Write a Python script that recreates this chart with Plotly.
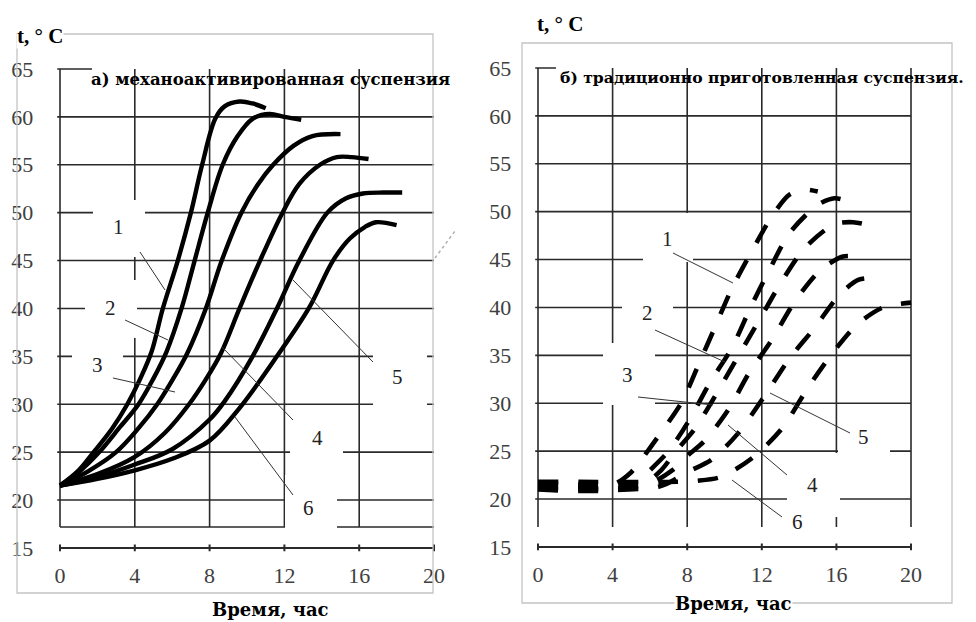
import plotly.graph_objects as go

# ---------------- data ----------------
x_ticks = [0, 4, 8, 12, 16, 20]
y_ticks = [15, 20, 25, 30, 35, 40, 45, 50, 55, 60, 65]
grid_levels = [20, 25, 30, 35, 40, 45, 50, 55, 60]
curve_labels = ["1", "2", "3", "4", "5", "6"]

title_a = "а) механоактивированная суспензия"
title_b = "б) традиционно приготовленная суспензия."
y_title = "t, ° C"
x_title = "Время, час"

# panel а) – mechanically activated suspension (solid curves)
time_a1 = [0, 1, 1.8, 2.8, 3.6, 4.3, 4.9, 5.5, 6.3, 7.0, 7.6, 8.3, 8.8, 9.6, 10.3, 11.0]
temp_a1 = [21.5, 23.1, 25, 27.5, 30, 32.7, 35.5, 40, 45, 50, 55, 59.8, 61.1, 61.6, 61.4, 60.9]
time_a2 = [0, 1, 2.1, 3.2, 4.2, 5.0, 5.7, 6.5, 7.2, 7.9, 8.7, 9.5, 10.3, 11.2, 12.0, 12.9]
temp_a2 = [21.5, 22.9, 25, 27.6, 30, 32.7, 35.5, 40, 45, 50, 55, 58, 59.8, 60.3, 60.0, 59.7]
time_a3 = [0, 1.5, 3.0, 4.2, 5.2, 6.0, 6.8, 7.8, 8.65, 9.7, 10.6, 11.4, 12.5, 13.5, 15.0]
temp_a3 = [21.5, 23, 25, 27.5, 30, 32.5, 35.3, 40, 45, 50, 53, 55, 57, 58, 58.2]
time_a4 = [0, 2, 4, 5.6, 6.9, 7.8, 8.6, 9.6, 10.7, 11.9, 12.8, 13.9, 14.8, 15.6, 16.5]
temp_a4 = [21.5, 22.7, 24.5, 27, 30, 32.6, 35.3, 40, 45, 50, 53, 55, 55.8, 55.8, 55.6]
time_a5 = [0, 2, 4, 6, 8, 8.8, 10.3, 11.6, 12.8, 14.3, 15.3, 16.2, 17.3, 18.3]
temp_a5 = [21.5, 22.4, 23.7, 25.3, 28.4, 30.3, 35, 40, 45, 50, 51.5, 52, 52.1, 52.1]
time_a6 = [0, 2, 4, 6, 8, 9.6, 11.6, 13.3, 14.6, 15.5, 16.3, 16.9, 18.0]
temp_a6 = [21.5, 22.2, 23.1, 24.3, 26.2, 29.6, 35, 40, 45, 47.3, 48.5, 49, 48.7]

# panel б) – traditionally prepared suspension (dashed curves)
time_b1 = [0, 4.0, 5.0, 5.5, 6.4, 7.7, 8.6, 9.5, 10.4, 11.5, 12.6, 13.5, 14.3, 15.0]
temp_b1 = [21.5, 21.5, 22.8, 24, 26.4, 30.1, 34, 38, 42, 46, 49.7, 51.8, 52.3, 52.1]
time_b2 = [0, 5.0, 6.0, 7.0, 8.1, 9.2, 10.4, 11.4, 12.4, 13.5, 15.0, 15.9, 16.9]
temp_b2 = [21.0, 21.2, 23, 25, 28.2, 32.1, 35.8, 40.0, 43.9, 47.8, 50.7, 51.4, 50.9]
time_b3 = [0, 5.5, 6.6, 7.4, 8.4, 9.6, 10.7, 11.9, 13.0, 14.3, 15.9, 16.9, 17.9]
temp_b3 = [21.3, 21.4, 23, 25, 27.3, 31.1, 34.8, 38.8, 42.5, 46.2, 48.7, 48.9, 48.5]
time_b4 = [0, 6.0, 7.2, 8.0, 8.9, 10.2, 11.3, 12.5, 13.8, 15.1, 16.3, 17.2]
temp_b4 = [21.7, 21.7, 23, 24.5, 26, 29.3, 33.1, 36.5, 40.7, 43.8, 45.3, 45.3]
time_b5 = [0, 6.5, 8.0, 9.3, 10.7, 12.3, 13.5, 14.8, 16.2, 17.2, 18.2]
temp_b5 = [21.1, 21.3, 22.8, 24.1, 26.8, 31.2, 34.7, 37.8, 41.4, 42.9, 43.1]
time_b6 = [0, 7.5, 8.5, 9.8, 11.5, 13.1, 14.4, 15.7, 17.1, 18.5, 20.0]
temp_b6 = [21.8, 21.8, 21.9, 22.3, 24.3, 27.4, 31.4, 35.0, 38.2, 40.0, 40.5]

# ---------------- figure geometry ----------------
# the page adds an 8 px body margin, so the figure is 8 px smaller and every
# reference pixel position is shifted by that offset
OFF = 8
W, H = 976 - OFF, 622 - OFF
SERIF = "Liberation Serif, Times New Roman, serif"
WIDE_SERIF = "DejaVu Serif, serif"


def paper(px, py):
    return (px - OFF) / W, 1 - (py - OFF) / H


def dom_x(p0, p1):
    return [(p0 - OFF) / W, (p1 - OFF) / W]


def dom_y(top, bot):
    return [1 - (bot - OFF) / H, 1 - (top - OFF) / H]


# reference-pixel -> data helpers for each panel (decorations only)
def ax_x(px):
    return (px - 60) / 18.7


def ax_y(py):
    return 20 + (500 - py) / 9.578


def bx_x(px):
    return (px - 538) / 18.65


def bx_y(py):
    return 20 + (499 - py) / 9.578


fig = go.Figure()

panel_a = [(time_a1, temp_a1), (time_a2, temp_a2), (time_a3, temp_a3),
           (time_a4, temp_a4), (time_a5, temp_a5), (time_a6, temp_a6)]
panel_b = [(time_b1, temp_b1), (time_b2, temp_b2), (time_b3, temp_b3),
           (time_b4, temp_b4), (time_b5, temp_b5), (time_b6, temp_b6)]

for t, T in panel_a:
    fig.add_trace(go.Scatter(x=t, y=T, mode="lines", xaxis="x", yaxis="y",
                             line=dict(color="black", width=4.4, shape="spline", smoothing=1.0),
                             showlegend=False, hoverinfo="skip"))
for t, T in panel_b:
    fig.add_trace(go.Scatter(x=t, y=T, mode="lines", xaxis="x2", yaxis="y2",
                             line=dict(color="black", width=4.6, shape="spline", smoothing=0.8,
                                       dash="20px,20px"),
                             showlegend=False, hoverinfo="skip"))

shapes = []
GRID = dict(color="#2a2a2a", width=1.6)


def dline(xr, yr, x0, y0, x1, y1, line=GRID, layer="below"):
    shapes.append(dict(type="line", xref=xr, yref=yr, x0=x0, y0=y0, x1=x1, y1=y1,
                       line=line, layer=layer))


# ---- panel а grid ----
bottom_a = ax_y(527)
for g in grid_levels:
    dline("x", "y", -0.15, g, 20, g)
dline("x", "y", -0.15, 65, ax_x(92), 65)
dline("x", "y", 0, bottom_a, 20, bottom_a)
for xv in x_ticks[:-1]:
    dline("x", "y", xv, bottom_a, xv, 65)
# ---- panel б grid ----
bottom_b = bx_y(527)
for g in grid_levels:
    dline("x2", "y2", -0.15, g, 20, g)
dline("x2", "y2", -0.15, 65, bx_x(556), 65)
for xv in x_ticks:
    dline("x2", "y2", xv, bottom_b, xv, 65)

# white boxes behind the curve numbers (hide grid like the original text boxes)
boxes_a = [(93, 200, 145, 257), (85, 280, 137, 338), (72, 340, 123, 400),
           (290, 420, 343, 470), (373, 320, 427, 428), (285, 475, 337, 532)]
boxes_b = [(643, 213, 693, 262), (622, 285, 673, 340), (603, 343, 655, 405),
           (787, 453, 840, 517), (838, 415, 890, 475), (785, 505, 812, 540)]
for (x0, y0, x1, y1) in boxes_a:
    shapes.append(dict(type="rect", xref="x", yref="y", x0=ax_x(x0), x1=ax_x(x1),
                       y0=ax_y(y1), y1=ax_y(y0), fillcolor="white",
                       line=dict(width=0), layer="below"))
for (x0, y0, x1, y1) in boxes_b:
    shapes.append(dict(type="rect", xref="x2", yref="y2", x0=bx_x(x0), x1=bx_x(x1),
                       y0=bx_y(y1), y1=bx_y(y0), fillcolor="white",
                       line=dict(width=0), layer="below"))

# separate time axis line at 15 °C with ticks
AXL = dict(color="#2a2a2a", width=2)
for xr, yr in [("x", "y"), ("x2", "y2")]:
    dline(xr, yr, 0, 15, 20, 15, AXL)
    for xv in x_ticks:
        dline(xr, yr, xv, 14.65, xv, 15.35, AXL)

# outer light-grey chart frames
for (x0, y0, x1, y1) in [(17, 34, 433, 593), (522, 43, 952, 603)]:
    px0, py0 = paper(x0, y0)
    px1, py1 = paper(x1, y1)
    shapes.append(dict(type="rect", xref="paper", yref="paper", x0=px0, x1=px1,
                       y0=py1, y1=py0, line=dict(color="#c4c4c4", width=1.3),
                       fillcolor="rgba(0,0,0,0)", layer="above"))

# scan artefact near the right edge of panel а
p0 = paper(435, 258)
p1 = paper(455, 231)
shapes.append(dict(type="line", xref="paper", yref="paper", x0=p0[0], y0=p0[1],
                   x1=p1[0], y1=p1[1], line=dict(color="#b0b0b0", width=1.5, dash="dot"),
                   layer="above"))

# leader lines from numbers to curves
leaders = [((140, 252), (165, 290)), ((125, 320), (168, 340)), ((113, 378), (175, 392)),
           ((222, 347), (293, 420)), ((293, 280), (373, 362)), ((235, 417), (293, 495)),
           ((673, 253), (733, 283)), ((655, 330), (725, 362)), ((638, 397), (713, 405)),
           ((728, 425), (787, 475)), ((770, 393), (850, 433)), ((732, 480), (782, 517))]
for (a, b) in leaders:
    q0 = paper(*a)
    q1 = paper(*b)
    shapes.append(dict(type="line", xref="paper", yref="paper", x0=q0[0], y0=q0[1],
                       x1=q1[0], y1=q1[1], line=dict(color="#333333", width=1),
                       layer="above"))

# ---------------- annotations ----------------
annotations = []


def note(px, py, text, font, bg=None):
    x, y = paper(px, py)
    d = dict(x=x, y=y, xref="paper", yref="paper", text=text, showarrow=False,
             xanchor="center", yanchor="middle", font=font, borderpad=0)
    if bg:
        d["bgcolor"] = bg
    annotations.append(d)


num_font = dict(family=SERIF, size=21, color="#222222")
label_pos_a = [(118, 227), (110, 308), (97, 365), (317, 438), (397, 377), (308, 508)]
label_pos_b = [(667, 239), (647, 313), (627, 375), (812, 485), (863, 437), (797, 522)]
for lab, (px, py) in zip(curve_labels, label_pos_a):
    note(px, py, lab, num_font)
for lab, (px, py) in zip(curve_labels, label_pos_b):
    note(px, py, lab, num_font)

note(270, 79, "<b>" + title_a + "</b>", dict(family=WIDE_SERIF, size=16.5, color="black"))
note(762, 77, "<b>" + title_b + "</b>", dict(family=WIDE_SERIF, size=15.6, color="black"))

yt_font = dict(family=SERIF, size=21, color="black")
note(40, 36, "<b>" + y_title + "</b>", yt_font, bg="white")
note(560, 24, "<b>" + y_title + "</b>", yt_font, bg="white")

xt_font = dict(family=WIDE_SERIF, size=18, color="black")
note(270, 609, "<b>" + x_title + "</b>", xt_font, bg="white")
note(733, 603, "<b>" + x_title + "</b>", xt_font, bg="white")

tick_font = dict(family=SERIF, size=22, color="#404040")
common_x = dict(range=[-1, 21], tickvals=x_ticks, ticktext=[str(v) for v in x_ticks],
                showgrid=False, zeroline=False, showline=False, ticks="",
                tickfont=tick_font, fixedrange=True, ticklabelstandoff=-7)
common_y = dict(range=[13, 67], tickvals=y_ticks, ticktext=[str(v) for v in y_ticks],
                showgrid=False, zeroline=False, showline=False, ticks="",
                tickfont=tick_font, fixedrange=True, ticklabelstandoff=7)

fig.update_layout(
    width=W, height=H,
    margin=dict(l=0, r=0, t=0, b=0),
    paper_bgcolor="white", plot_bgcolor="white",
    xaxis=dict(domain=dom_x(41.3, 452.7), anchor="y", **common_x),
    yaxis=dict(domain=dom_y(49.83, 567.05), anchor="x", **common_y),
    xaxis2=dict(domain=dom_x(519.35, 929.65), anchor="y2", **common_x),
    yaxis2=dict(domain=dom_y(48.83, 566.05), anchor="x2", **common_y),
    shapes=shapes,
    annotations=annotations,
    showlegend=False,
)

fig.write_html("out.html")
